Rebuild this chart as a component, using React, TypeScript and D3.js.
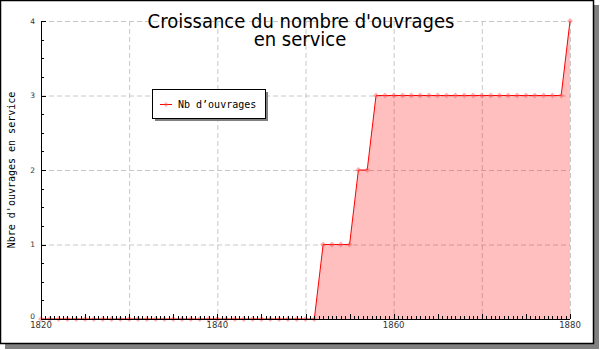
import React from "react";
import * as d3 from "d3";

const startYear = 1820;
const endYear = 1880;
const values: number[] = [
  0, 0, 0, 0, 0, 0, 0, 0, 0, 0,
  0, 0, 0, 0, 0, 0, 0, 0, 0, 0,
  0, 0, 0, 0, 0, 0, 0, 0, 0, 0,
  0, 0, 1, 1, 1, 1, 2, 2, 3, 3,
  3, 3, 3, 3, 3, 3, 3, 3, 3, 3,
  3, 3, 3, 3, 3, 3, 3, 3, 3, 3,
  4,
];
const years: number[] = values.map((_, i) => startYear + i);
const xLabels = [1820, 1840, 1860, 1880];
const xGrid = [1830, 1840, 1850, 1860, 1870, 1880];
const yTicks = [0, 1, 2, 3, 4];
const titleLines = ["Croissance du nombre d'ouvrages", "en service"];
const yTitle = "Nbre d'ouvrages en service";
const legendLabel = "Nb d\u2019ouvrages";

export default function App() {
  const W = 600, H = 350;
  const x = d3.scaleLinear().domain([startYear, endYear]).range([41, 570]);
  const y = d3.scaleLinear().domain([0, 4]).range([319, 21]);
  const pts: [number, number][] = years.map((yr, i) => [yr, values[i]]);
  const line = d3.line<[number, number]>().x(d => x(d[0])).y(d => y(d[1]));
  const area = d3.area<[number, number]>().x(d => x(d[0])).y0(y(0)).y1(d => y(d[1]));
  const minorX = d3.range(startYear, endYear + 0.001, 0.5);
  const minorY = d3.range(0, 4.001, 0.25);
  const mono = "'DejaVu Sans Mono', monospace";
  const sans = "'DejaVu Sans', sans-serif";
  const cond = "'DejaVu Sans Condensed', 'DejaVu Sans', sans-serif";
  return (
    <svg width={W} height={H} style={{ position: "absolute", left: 0, top: 0 }}>
      <rect x={5} y={5} width={594} height={344} fill="#808080" />
      <rect x={0.5} y={0.5} width={593} height={343} fill="#ffffff" stroke="#000" strokeWidth={1.5} />
      {/* grid */}
      {xGrid.map(g => (
        <line key={"gx" + g} x1={x(g) + 0.5} x2={x(g) + 0.5} y1={y(4)} y2={y(0)} stroke="#c8c8c8" strokeDasharray="5,3" />
      ))}
      {yTicks.filter(t => t > 0).map(t => (
        <line key={"gy" + t} x1={x(startYear)} x2={x(endYear)} y1={y(t) + 0.5} y2={y(t) + 0.5} stroke="#c8c8c8" strokeDasharray="5,3" />
      ))}
      <path d={area(pts) || ""} fill="rgba(255,0,0,0.25)" />
      <path d={line(pts) || ""} fill="none" stroke="#ff0000" strokeWidth={1} />
      {pts.map((p, i) => (
        <path key={"m" + i} d={`M${x(p[0])},${y(p[1]) - 3}l3,3l-3,3l-3,-3z`} fill="rgba(255,80,80,0.45)" />
      ))}
      {/* axes */}
      <line x1={41.5} x2={41.5} y1={y(4)} y2={y(0)} stroke="#000" />
      <line x1={41} x2={570} y1={y(0) + 0.5} y2={y(0) + 0.5} stroke="#000" />
      {minorX.map(v => {
        const major = Math.abs(v % 5) < 1e-6;
        return <line key={"tx" + v} x1={Math.round(x(v)) + 0.5} x2={Math.round(x(v)) + 0.5} y1={y(0)} y2={y(0) - (major ? 5 : 3)} stroke="#000" />;
      })}
      {minorY.map(v => {
        const major = Math.abs(v % 1) < 1e-6;
        return <line key={"ty" + v} x1={41} x2={41 + (major ? 5 : 3)} y1={Math.round(y(v)) + 0.5} y2={Math.round(y(v)) + 0.5} stroke="#000" />;
      })}
      {xLabels.map(v => (
        <text key={"lx" + v} x={x(v)} y={328} fontFamily={sans} fontSize={8.5} fill="#333" textAnchor="middle">{v}</text>
      ))}
      {yTicks.map(v => (
        <text key={"ly" + v} x={35} y={y(v) + (v === 0 ? 0 : 2.5)} fontFamily={sans} fontSize={7.5} fill="#333" textAnchor="end">{v}</text>
      ))}
      {/* titles */}
      <text x={301} y={27.5} fontFamily={cond} fontSize={20} textAnchor="middle" fill="#000">{titleLines[0]}</text>
      <text x={300} y={46} fontFamily={cond} fontSize={20} textAnchor="middle" fill="#000">{titleLines[1]}</text>
      <text transform="translate(15,170) rotate(-90)" fontFamily={mono} fontSize={10} textAnchor="middle" fill="#000">{yTitle}</text>
      {/* legend */}
      <rect x={155} y={92} width={113} height={29} fill="#808080" />
      <rect x={152.5} y={89.5} width={113} height={29} fill="#fff" stroke="#000" />
      <line x1={160} x2={172} y1={104.5} y2={104.5} stroke="#ff0000" />
      <path d={`M166,102l2.5,2.5l-2.5,2.5l-2.5,-2.5z`} fill="rgba(255,80,80,0.45)" />
      <text x={178} y={108} fontFamily={mono} fontSize={10} fill="#000">{legendLabel}</text>
    </svg>
  );
}
